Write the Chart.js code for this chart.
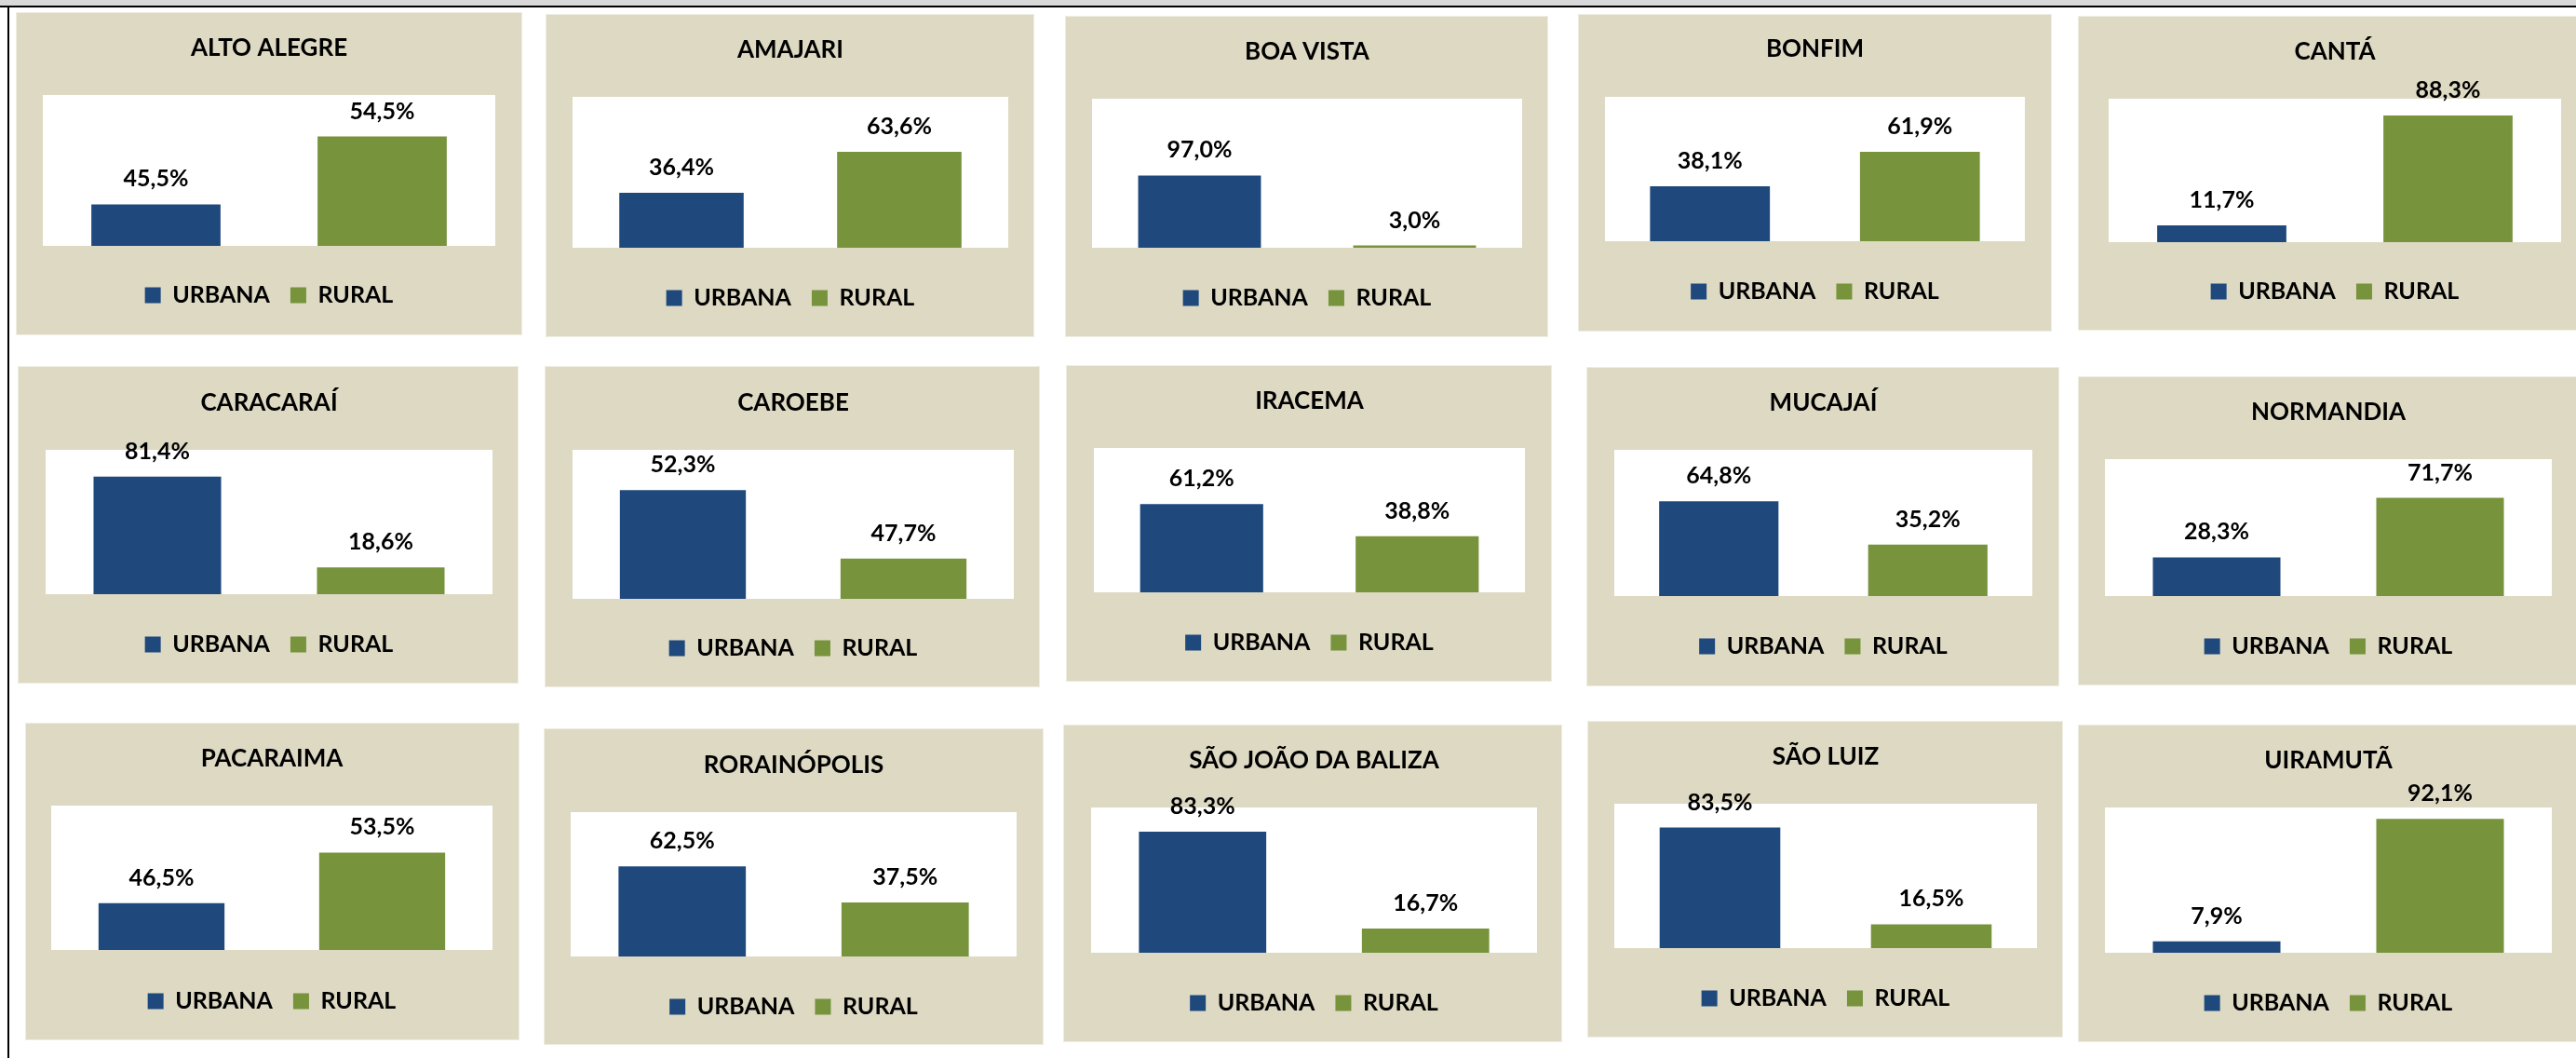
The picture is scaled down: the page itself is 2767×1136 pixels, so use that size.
<!DOCTYPE html>
<html>
<head>
<meta charset="utf-8">
<title>População urbana e rural por município</title>
<script src="https://cdn.jsdelivr.net/npm/chart.js@4.4.1/dist/chart.umd.min.js"></script>
<style>
  html, body { margin: 0; padding: 0; background: #fff; }
  #page { position: relative; width: 2767px; height: 1136px; overflow: hidden; background: #fff; }
  #topbar { position: absolute; left: 0; top: 0; width: 2767px; height: 6px; background: #d9d9d9; border-bottom: 2px solid #000; }
  #leftline { position: absolute; left: 8px; top: 6px; width: 2px; height: 1130px; background: #000; }
  .panel { position: absolute; background: #ddd9c3; box-shadow: 0 0 0 1px #efede3; }
  .panel canvas { display: block; }
</style>
</head>
<body>
<div id="page">
  <div id="topbar"></div>
  <div id="leftline"></div>
</div>
<script>
// ── Dados ──
var municipios = ["ALTO ALEGRE", "AMAJARI", "BOA VISTA", "BONFIM", "CANTÁ",
                  "CARACARAÍ", "CAROEBE", "IRACEMA", "MUCAJAÍ", "NORMANDIA",
                  "PACARAIMA", "RORAINÓPOLIS", "SÃO JOÃO DA BALIZA", "SÃO LUIZ", "UIRAMUTÃ"];
var urbana = [45.5, 36.4, 97.0, 38.1, 11.7, 81.4, 52.3, 61.2, 64.8, 28.3, 46.5, 62.5, 83.3, 83.5, 7.9];
var rural  = [54.5, 63.6, 3.0, 61.9, 88.3, 18.6, 47.7, 38.8, 35.2, 71.7, 53.5, 37.5, 16.7, 16.5, 92.1];
var seriesNames = ["URBANA", "RURAL"];
// eixo de cada gráfico (escala automática do original)
var yMin = [40, 0, 0, 0, 0, 0, 45, 0, 0, 0, 40, 0, 0, 0, 0];
var yMax = [60, 100, 200, 100, 100, 100, 55, 100, 100, 100, 60, 100, 100, 100, 100];

// ── Layout (px na página) ──
var panelBox = [
  [18, 14, 560, 359], [587, 16, 1110, 361], [1145, 18, 1662, 361], [1696, 16, 2203, 355], [2233, 18, 2767, 354],
  [20, 394, 556, 733], [586, 394, 1116, 737], [1146, 393, 1666, 731], [1705, 395, 2211, 736], [2233, 405, 2767, 735],
  [28, 777, 557, 1116], [585, 783, 1120, 1121], [1143, 779, 1677, 1118], [1706, 775, 2215, 1113], [2233, 779, 2767, 1118]
];
var plotBox = [
  [46, 102, 532, 264], [615, 104, 1083, 266], [1173, 106, 1635, 266], [1724, 104, 2175, 259], [2265, 106, 2751, 260],
  [49, 483, 529, 638], [615, 483, 1089, 643], [1175, 481, 1638, 636], [1734, 483, 2183, 640], [2261, 493, 2741, 640],
  [55, 865, 529, 1020], [613, 872, 1092, 1027], [1172, 867, 1651, 1023], [1734, 863, 2188, 1018], [2261, 867, 2741, 1023]
];
var titleY  = [52, 54, 56, 53, 56, 433, 433, 431, 433, 443, 815, 822, 817, 813, 817];
var legendY = [317, 320, 320, 313, 313, 692, 696, 690, 694, 694, 1075, 1081, 1077, 1072, 1077];

var COR_URBANA = "#1f497d";
var COR_RURAL = "#77933c";

var TITLE_SIZE = 26, LABEL_SIZE = 25, LEGEND_SIZE = 25, LEGEND_PAD = 22;

Chart.defaults.font.family = "Lato, 'Open Sans', sans-serif";
Chart.defaults.color = "#000";

function fmtPct(v) {
  return v.toFixed(1).replace(".", ",") + "%";
}

// fundo branco só na área do gráfico
var plotBg = {
  id: "plotBg",
  beforeDatasetsDraw: function(chart) {
    var a = chart.chartArea, ctx = chart.ctx;
    ctx.save();
    ctx.fillStyle = "#fff";
    ctx.fillRect(a.left, a.top, a.right - a.left, a.bottom - a.top);
    ctx.restore();
  }
};

// rótulos de valor acima das barras
var valueLabels = {
  id: "valueLabels",
  afterDatasetsDraw: function(chart) {
    var ctx = chart.ctx;
    ctx.save();
    ctx.font = "bold " + LABEL_SIZE + "px Lato";
    ctx.fillStyle = "#000";
    ctx.textAlign = "center";
    ctx.textBaseline = "alphabetic";
    chart.data.datasets.forEach(function(ds, di) {
      chart.getDatasetMeta(di).data.forEach(function(bar, i) {
        var v = ds.data[i];
        if (v == null) return;
        ctx.fillText(fmtPct(v), bar.x, bar.y - 19);
      });
    });
    ctx.restore();
  }
};

function makeChart(i) {
  var pb = panelBox[i], pl = plotBox[i];
  var w = pb[2] - pb[0], h = pb[3] - pb[1];

  var div = document.createElement("div");
  div.className = "panel";
  div.style.cssText += "left:" + pb[0] + "px;top:" + pb[1] + "px;width:" + w + "px;height:" + h + "px;";
  var canvas = document.createElement("canvas");
  canvas.width = w; canvas.height = h;
  div.appendChild(canvas);
  document.getElementById("page").appendChild(div);

  var lineH = TITLE_SIZE * 1.2;
  var tRel = titleY[i] - pb[1];
  var plotTop = pl[1] - pb[1], plotBottom = pl[3] - pb[1];
  var padT = tRel - lineH / 2;
  var padB = plotTop - padT - lineH;
  // legenda do Chart.js: altura = fonte + padding + 10, itens a partir de top + padding
  var gap = (legendY[i] - pb[1]) - plotBottom - LEGEND_PAD - LEGEND_SIZE / 2;
  var bottomPad = Math.max(0, h - (plotBottom + gap + LEGEND_PAD + LEGEND_SIZE + 10));

  new Chart(canvas.getContext("2d"), {
    type: "bar",
    data: {
      labels: seriesNames,
      datasets: [
        { label: seriesNames[0], data: [urbana[i], null], backgroundColor: COR_URBANA, skipNull: true },
        { label: seriesNames[1], data: [null, rural[i]], backgroundColor: COR_RURAL, skipNull: true }
      ]
    },
    options: {
      responsive: false,
      animation: false,
      devicePixelRatio: 1,
      events: [],
      datasets: { bar: { barPercentage: 0.571, categoryPercentage: 1, borderWidth: 0 } },
      layout: { padding: { left: pl[0] - pb[0], right: pb[2] - pl[2], top: 0, bottom: bottomPad } },
      plugins: {
        title: {
          display: true,
          text: municipios[i],
          font: { size: TITLE_SIZE, weight: "bold" },
          padding: { top: padT, bottom: padB }
        },
        legend: {
          display: true,
          position: "bottom",
          labels: {
            font: { size: LEGEND_SIZE, weight: "bold" },
            boxWidth: 17, boxHeight: 17,
            padding: LEGEND_PAD
          }
        },
        tooltip: { enabled: false }
      },
      scales: {
        x: {
          display: true,
          grid: { display: false },
          border: { display: false },
          ticks: { display: false },
          afterFit: function(scale) { scale.height = gap; }
        },
        y: { display: false, min: yMin[i], max: yMax[i] }
      }
    },
    plugins: [plotBg, valueLabels]
  });
}

for (var i = 0; i < municipios.length; i++) makeChart(i);
</script>
</body>
</html>
